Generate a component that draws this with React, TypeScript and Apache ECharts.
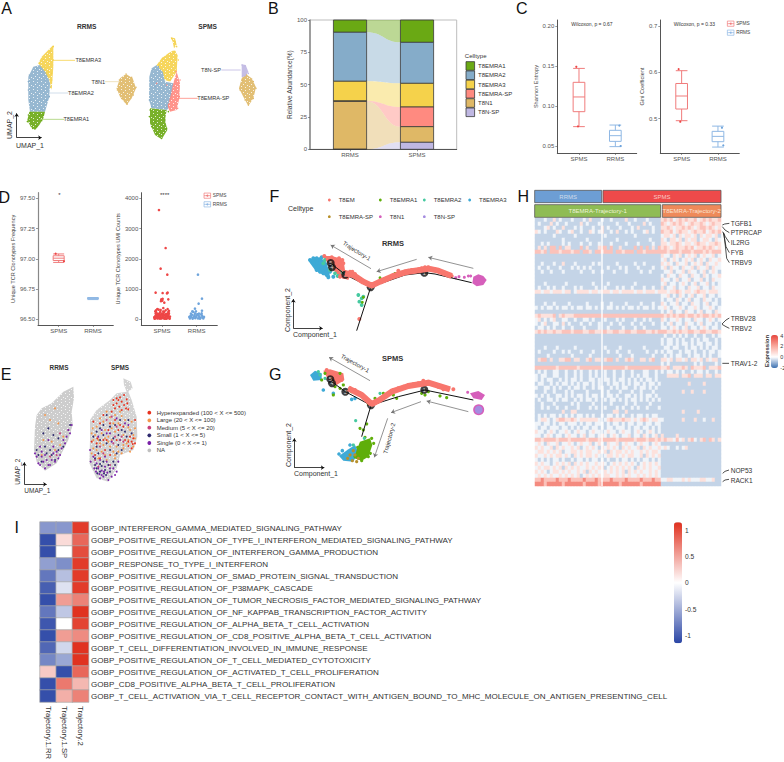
import React, { useEffect, useRef } from 'react';
import * as echarts from 'echarts';

type P = number[];
const FONT = 'Liberation Sans';

// ---- Panel B
const cellTypes = ['T8EMRA1', 'T8EMRA2', 'T8EMRA3', 'T8EMRA-SP', 'T8N1', 'T8N-SP'];
const cellColors = ['#6aa914', '#85acc9', '#f5d24b', '#ff8a80', '#dfb866', '#bfb7e2'];
const rrmsShare = [9.5, 37.9, 15.2, 0.4, 37, 0];
const spmsShare = [17.3, 31.7, 18.3, 15.2, 12.1, 5.4];
const abundanceGroups = ['RRMS', 'SPMS'];

// ---- Panel C / D boxes: min, Q1, median, Q3, max
const entropySp = [0.0742, 0.0929, 0.1113, 0.1296, 0.147];
const entropyRr = [0.0492, 0.0558, 0.0629, 0.0696, 0.0762];
const entropyPts = [[229, 0.149], [234, 0.0745]];
const entropyPtsRr = [[358, 0.0755], [362, 0.05]];
const giniSp = [0.4957, 0.5209, 0.549, 0.576, 0.6036];
const giniRr = [0.4388, 0.4504, 0.4619, 0.4727, 0.484];
const giniPts = [[536, 0.607], [541, 0.4935]];
const giniPtsRr = [[666, 0.4806], [670, 0.4424]];
const freqSp = [96.97, 96.986, 97.005, 97.025, 97.04];
const freqRr = [96.663, 96.669, 96.673, 96.677, 96.68];
const freqPts = [[167, 97.042], [192, 96.98]];
const umiSp = [[477,3614],[497,2358],[482,1675],[502,1477],[467,882],[488,870],[503,882],[501,860],[505,661],[484,661],[488,680],[483,600],[487,620],[493,551],[490,375],
[464,20],[468,60],[472,30],[476,90],[480,20],[484,50],[488,120],[492,30],[496,70],[500,25],[504,100],[508,40],[466,110],[470,150],[474,180],[478,140],[482,100],[486,190],[490,160],[494,130],[498,170],[502,190],[506,150],[510,90],[463,70],[467,190],[471,90],[475,40],[479,200],[483,150],[487,60],[491,210],[495,20],[499,110],[503,50],[507,200],[465,30],[469,230],[473,130],[477,60],[481,250],[485,30],[489,90],[493,250],[497,30],[501,140],[505,240],[509,20],[468,300],[472,340],[476,320],[497,300],[503,340],[490,260],[482,310],[466,260],[507,280]];
const umiRr = [[594,1477],[606,683],[596,518],[585,353],[577,264],[588,264],[606,286],[580,250],
[570,30],[574,70],[578,20],[582,100],[586,40],[590,120],[594,30],[598,80],[602,50],[606,120],[610,30],[612,80],[568,80],[572,120],[576,150],[580,60],[584,150],[588,80],[592,170],[596,130],[600,20],[604,160],[608,70],[573,190],[585,200],[597,190],[605,200]];

// ---- Panel A (UMAP)
const aRrGreen = [[88,335],[135,335],[130,355],[118,375],[105,390],[92,380],[82,360]];
const aRrBlue = [[100,200],[120,195],[140,215],[150,250],[148,290],[135,335],[90,335],[85,300],[85,230]];
const aRrYellow = [[160,135],[160,200],[155,270],[148,240],[135,215],[115,190],[125,170],[145,150]];
const aRrTan = [[378,222],[398,235],[408,265],[395,295],[380,315],[360,290],[350,265],[360,235]];
const aSpYellowTip = [[512,112],[525,115],[530,135],[522,145],[518,125]];
const aSpYellow = [[522,150],[533,165],[530,215],[510,245],[495,240],[488,215],[470,195],[485,175],[505,160]];
const aSpBlue = [[470,195],[490,215],[495,245],[520,250],[515,290],[503,330],[455,325],[447,300],[448,230],[455,205]];
const aSpPink = [[530,215],[540,250],[538,295],[530,330],[510,335],[503,320],[512,285],[520,250]];
const aSpGreen = [[450,325],[500,330],[495,360],[502,390],[485,418],[465,405],[450,370]];
const aSpLav = [[725,193],[737,195],[745,215],[738,228],[725,232]];
const aSpTan = [[737,222],[755,235],[768,262],[760,295],[745,318],[730,290],[717,265],[725,235]];
const fuzzGreen = [[85,345],[92,338],[130,345],[125,362],[110,380],[98,385],[82,365],[105,350],[118,345],[90,360],[450,330],[448,350],[455,380],[470,400],[485,415],[500,385],[495,360],[505,335],[480,390],[465,365]];
const fuzzBlue = [[88,225],[85,270],[92,300],[100,325],[125,330],[140,300],[150,260],[148,290],[110,205],[125,215],[135,240],[85,245],[450,240],[460,210],[475,200],[448,300],[455,320],[500,320],[510,280],[465,260],[490,300]];
const fuzzYellow = [[160,140],[150,155],[130,178],[118,190],[155,220],[160,180],[152,262],[145,215],[135,200],[155,240],[515,115],[525,125],[530,140],[525,155],[535,180],[528,210],[488,175],[495,235],[510,240],[478,195]];
const fuzzPink = [[540,240],[538,290],[533,325],[510,330],[505,315],[528,215],[520,260],[500,255],[470,250]];
const fuzzTan = [[378,222],[395,232],[408,262],[400,285],[382,312],[365,295],[352,270],[358,240],[372,300],[740,225],[760,245],[768,265],[760,295],[745,315],[720,270],[728,240],[735,300]];
const fuzzLav = [[726,195],[735,198],[745,220],[728,228]];
const speckTile = [[1,1],[5,2],[3,4],[7,5],[1,6],[5,7]];

// ---- Panel E (clonotype UMAP)
const eRrCloud = [[220,140],[222,175],[215,215],[218,255],[205,300],[185,340],[170,370],[135,392],[110,365],[102,330],[105,260],[110,225],[125,205],[155,190],[190,155]];
const eSpCloud = [[370,115],[392,125],[398,145],[385,155],[395,180],[410,230],[412,290],[400,330],[360,345],[350,385],[325,425],[290,415],[268,370],[270,300],[270,240],[290,210],[330,180],[350,160],[380,155],[372,135]];
const cloneNames = ['Hyperexpanded (100 < X <= 500)', 'Large (20 < X <= 100)', 'Medium (5 < X <= 20)', 'Small (1 < X <= 5)', 'Single (0 < X <= 1)', 'NA'];
const cloneColors = ['#e8321f', '#f5964a', '#c63f7b', '#2e2a6e', '#7a22a8', '#bfbfbf'];
const eRed = [[340,180],[350,175],[360,172],[372,165],[380,178],[365,185],[350,190],[340,195],[358,200],[372,195],[382,190],[335,215],[385,208],[300,250],[280,245],[330,250],[345,240],[390,290],[400,295],[395,305],[405,310],[385,318],[395,325],[375,300],[310,300],[325,270],[355,270],[370,260],[290,310],[300,355],[285,345],[330,345],[350,300],[275,305],[315,330],[405,240],[355,180],[345,205],[365,210],[378,205],[310,225],[320,300],[360,255],[385,305],[398,312],[292,295]];
const eOrange = [[300,235],[320,215],[345,225],[375,240],[395,245],[405,265],[390,270],[370,285],[345,275],[325,290],[305,280],[285,285],[278,265],[290,330],[310,315],[330,320],[350,320],[370,325],[380,310],[365,340],[340,335],[280,325],[295,300],[355,250],[335,265],[400,320],[315,345],[345,355],[360,215],[290,260],[310,245],[330,232],[365,228],[385,262],[400,285],[360,300],[335,300],[315,295],[300,310],[280,300],[275,340],[295,355],[320,360],[345,345],[370,315],[385,300],[355,335],[325,305],[305,335],[340,250],[315,270],[405,295],[390,335],[275,280],
[150,240],[165,205],[135,225],[175,250],[190,290],[130,300],[155,305],[180,315],[125,345],[165,330]];
const eMedium = [[320,240],[350,260],[340,310],[300,320],[370,305],[285,360],[330,375],[345,290],[310,340],[365,290],[335,230],[295,380],[180,280],[205,270],[150,350],[170,345]];
const eSmall = [[300,265],[330,260],[310,255],[355,285],[340,295],[320,310],[295,340],[310,365],[290,385],[300,395],[305,378],[315,390],[285,375],[330,395],[345,375],[365,330],[280,290],[375,275],[395,280],[360,240],[312,400],[290,275],[320,225],[345,255],[365,270],[385,240],[300,300],[330,330],[350,340],[290,320],[285,355],[325,375],[300,372],[292,400],[318,405],[340,365],[310,285],[355,315],[380,290],
[145,265],[160,285],[175,295],[135,320],[150,330],[125,365],[165,360],[190,320],[130,280],[210,255],[115,345],[140,340],[155,345],[110,330],[175,330]];
const eSingle = [[295,385],[305,392],[298,402],[288,395],[315,380],[322,398],[335,410],[325,420],[350,395],[340,385],[310,410],[272,365],[280,350],[300,415],[315,350],[335,305],[360,300],[295,290],[320,280],[385,255],[290,370],[300,360],[312,395],[330,385],[345,405],[283,385],[305,405],[320,365],[270,330],[355,365],[330,280],[350,235],[305,270],[375,250],
[205,270],[110,350],[120,375],[135,385],[150,375],[165,365],[180,345],[140,360],[125,335],[160,340],[105,340],[145,300],[190,300],[200,290],[115,370],[175,355],[135,345],[215,255],[130,365],[145,375],[125,350],[155,360],[170,335],[185,325],[195,310],[210,280],[160,320],[120,320]];

// ---- Panel F / G (trajectories)
const trajNames = ['T8EM', 'T8EMRA1', 'T8EMRA2', 'T8EMRA3', 'T8EMRA-SP', 'T8N1', 'T8N-SP'];
const trajColors = ['#f8766d', '#5fae0a', '#45c9a0', '#3eaad6', '#b8902a', '#d65fbb', '#a58de0'];
const fTree = [[[620,338],[510,312],[478,308],[420,315],[320,350]], [[317,352],[275,482]], [[317,352],[241,314],[197,280]]];
const fBand = [[560,318],[520,302],[490,296],[460,301],[420,307],[380,320],[345,335],[320,347],[295,335],[265,315],[240,310]];
const fSalmon = [[560,318],[550,312],[540,308],[530,305],[520,300],[510,298],[500,296],[490,292],[480,292],[470,295],[460,298],[450,302],[440,300],[430,302],[420,305],[410,308],[400,302],[395,312],[385,315],[375,322],[365,325],[355,330],[345,335],[335,340],[325,345],[315,345],[305,340],[295,335],[285,330],[275,325],[270,312],[262,305],[255,305],[245,310],[235,320],[225,320],[222,305],[228,292],[235,280],[232,270],[222,265],[210,270],[200,262],[188,268],[178,258],[283,447]];
const fSalmonCloud = [[175,258],[200,258],[235,268],[240,300],[260,305],[250,330],[225,322],[205,300],[185,275]];
const fBlueCloud = [[135,268],[165,262],[185,278],[195,318],[175,315],[150,300],[132,275]];
const fBlue = [[135,270],[145,265],[155,265],[165,270],[155,280],[160,290],[170,285],[155,300],[165,305],[175,310],[185,315],[190,322],[180,295],[195,305],[145,278],[170,262],[205,320]];
const fTeal = [[195,300],[210,310],[218,318],[225,305],[235,310],[280,375],[290,385],[283,395],[290,405],[175,280],[180,270],[295,380]];
const fGreen = [[285,330],[270,325],[345,323],[330,340],[320,340],[292,397],[295,382],[390,310]];
const fPinkCloud = [[625,320],[640,313],[655,318],[665,330],[655,345],[635,349],[622,340]];
const fPink = [[582,320],[598,322],[610,318],[617,318],[572,323]];
const fNodes = [[478,308,'1'],[317,352,'2'],[241,314,'3'],[201,292,'4'],[197,279,'5']];
const fArrows = [[[625,295],[490,262]], [[455,268],[335,305]], [[318,296],[197,225]]];

const gTree = [[[625,210],[480,180],[400,200],[330,222],[318,226]], [[318,226],[290,320]], [[318,226],[241,185],[200,155]]];
const gBand = [[555,178],[490,158],[430,168],[380,185],[340,212],[320,222],[290,195],[250,175]];
const gSalmon = [[565,178],[550,176],[535,178],[520,170],[505,165],[490,155],[475,152],[460,160],[445,163],[430,165],[415,170],[400,175],[385,180],[375,190],[360,200],[345,210],[330,220],[305,210],[290,195],[270,180],[255,175],[230,150],[220,135],[185,120],[205,150],[285,190],[225,145],[210,135]];
const gSalmonCloud = [[175,122],[195,118],[235,130],[238,150],[215,165],[190,150]];
const gGreen = [[545,203],[525,198],[490,185],[480,195],[470,190],[395,205],[385,195],[355,190],[330,205],[340,215],[310,222],[285,295],[305,282],[295,300],[260,185],[235,165],[225,175],[205,195],[170,150],[210,170],[180,130],[225,130],[320,325],[326,340],[310,380],[290,392],[270,380],[278,352],[300,322],[316,370]];
const gGreenCloud = [[315,325],[322,345],[310,380],[290,392],[268,385],[275,360],[285,335]];
const gBlueCloud = [[222,378],[250,358],[270,345],[280,365],[265,395],[235,392]];
const gBlueTop = [[135,135],[150,122],[170,130],[170,150],[145,152]];
const gBlue = [[175,180],[205,190],[260,208],[270,205],[222,372],[232,362],[255,345]];
const gBrown = [[255,375],[270,375],[262,392],[248,385],[280,385],[265,362],[275,395]];
const gTeal = [[272,272],[298,325],[265,345],[160,125],[180,145],[165,135],[345,190]];
const gPinkCloud = [[615,190],[640,183],[660,195],[650,210],[625,205]];
const gPink = [[608,187]];
const gCircle = [[641,239]];
const gNodes = [[478,179,'1'],[318,226,'2'],[241,185,'3'],[201,160,'4'],[196,148,'5']];
const gArrows = [[[610,245],[485,213]], [[468,215],[378,248]], [[315,152],[192,82]], [[368,265],[328,382]]];

// ---- Panel H: one string per gene row, left block | right block; digit is an expression level
const exprLevels = [-0.6, -0.15, 0.7, 1.4, 2.6];
const exprRows = [
'000100201000100010200010010000200100010000|23231232322312323223',
'010002010010000201000100000100010000201000|32123232123223212322',
'000120100200010100010020100010001020000100|22321223232123323212',
'210100021001200100210120010200101000120100|32231232212322312323',
'000000100000010000000001000000000100000000|12212021221202122120',
'000000000100000001000000000100000000001000|21022120212201221021',
'001010000101000100100100010000100010000100|22122321221232212232',
'020203303022000302000233030020000303030203|23212322323122323212',
'332303332333233033203323330332333033233333|33233323332333232333',
'000000000000000000000000000000000000000000|21102120121201211201',
'000000000000000000000000000000000000000000|12012101212012102112',
'001000100200010000010100000100000100100000|21210211201212021121',
'010010001000101010100000100010100010000100|12021102112021120211',
'001001000100000100010010001000100001001000|01120112021101201210',
'000000000000000000000000000000000000000000|10211021102110210112',
'000000000000000000000000000000000000000000|21101201120112010211',
'000100000010000000010000100000000100000000|12011012101201120101',
'010010100100010100001001000101001000100100|20112011021120110211',
'221221222122012222122122212212222122122212|22122321221232212221',
'000000000000000000000000000000000000000000|11201021012011201101',
'000000000000000000000000000000000000000000|10110210120110211010',
'000100100001000001000010010000100001000100|21011201102110120110',
'101011010110101101101010110101011010110101|12101121011210112101',
'000000000000000000000000000000000000000000|10120110211012011021',
'232222302322233333333333333333333333333333|32323233233232332323',
'120101200110010011010001000101000100101000|21011210110211012101',
'101200110201000100100100010010001001000100|10120110211012011010',
'011010100100100010000100100001000100100000|11012101201101210110',
'232322322333233322332233223322332233322323|33223232233223322332',
'000000000000000000000000000000000000000000|01001010100100100101',
'000000000000000000000000000000000000000000|10110101001010110010',
'000000000000000000000000000000000000000000|10110101101011011010',
'000100010000010000000001000010000000100000|01101100101101010110',
'010000100101000100010000100100010000010010|10110010110100101101',
'000010000000100000100000000010001000000100|01010110010110101001',
'023302002233022002302202330200232002202300|22120221202212021220',
'000000000000000000000000000000000000000000|10100000000101000010',
'333333323333332333333333333333233333333333|22302223203222302223',
'010100110010010100101001001001001000110010|10110101001011010010',
'101100110010010100101001001001001010110010|00222202230222022022',
'101011001010110100110101101011010101011010|00000000000000000000',
'011001010110101011010100101101010110101101|00000000020000200000',
'100110101001011010010110010101100101101010|00000000000000000000',
'000100100010100001000010100010001001000100|00000002002000200000',
'101010011010101101011010110100110101011010|00000000000000000000',
'010011010110010101101001011010101101010101|00000000000000000000',
'001000100000101000010000010000100100001000|00000000000000000000',
'001010010010001000101001000101001010010001|00000000000000000000',
'000000000200220000000000002200200000000000|00000002000020000000',
'010101101010101101010010110101001011010110|00000000000000000000',
'012210123322321222222101232223221212321221|10000002000200100200',
'110110101101110101101110101101011011011011|00000000000000000000',
'101101110110101011011010110111010110110101|00000000000000000000',
'211012101121012110121101211012110121012101|00000000000000000000',
'110121011012110120110121012101120110210120|20000200000000000000',
'332333323332333332333233333233333233323323|23221312023102303202',
'121021120112101211201210211201211012110121|00000000000000000000',
'212112021211212012121021212102121120212112|12100101200000000000',
'122121212011221212211212021221212112121221|00000000000000000000',
'211212122121021212212101221212122112021212|00000000000000000000',
'101010110100101101011010100101101010110101|00000000000000000000',
'212110121212021212112121012121212101212121|00000000000000000000',
'121221212021212112121220121212121021212112|00000000000000000000',
'212101221212112120212112121212021212112121|00000000000000000000',
'121212112121212012121212211212121121212121|00000000000000000000',
'334333343334333343334333343333433334333433|11221112121112211200',
'444344444344444434444344444434444443444444|00000000000000000000',
];
const genes = ['TGFB1', 'PTPRCAP', 'IL2RG', 'FYB', 'TRBV9', 'TRBV28', 'TRBV2', 'TRAV1-2', 'NOP53', 'RACK1'];

// ---- Panel I
const pathways = [
'GOBP_INTERFERON_GAMMA_MEDIATED_SIGNALING_PATHWAY',
'GOBP_POSITIVE_REGULATION_OF_TYPE_I_INTERFERON_MEDIATED_SIGNALING_PATHWAY',
'GOBP_POSITIVE_REGULATION_OF_INTERFERON_GAMMA_PRODUCTION',
'GOBP_RESPONSE_TO_TYPE_I_INTERFERON',
'GOBP_POSITIVE_REGULATION_OF_SMAD_PROTEIN_SIGNAL_TRANSDUCTION',
'GOBP_POSITIVE_REGULATION_OF_P38MAPK_CASCADE',
'GOBP_POSITIVE_REGULATION_OF_TUMOR_NECROSIS_FACTOR_MEDIATED_SIGNALING_PATHWAY',
'GOBP_POSITIVE_REGULATION_OF_NF_KAPPAB_TRANSCRIPTION_FACTOR_ACTIVITY',
'GOBP_POSITIVE_REGULATION_OF_ALPHA_BETA_T_CELL_ACTIVATION',
'GOBP_POSITIVE_REGULATION_OF_CD8_POSITIVE_ALPHA_BETA_T_CELL_ACTIVATION',
'GOBP_T_CELL_DIFFERENTIATION_INVOLVED_IN_IMMUNE_RESPONSE',
'GOBP_POSITIVE_REGULATION_OF_T_CELL_MEDIATED_CYTOTOXICITY',
'GOBP_POSITIVE_REGULATION_OF_ACTIVATED_T_CELL_PROLIFERATION',
'GOBP_CD8_POSITIVE_ALPHA_BETA_T_CELL_PROLIFERATION',
'GOBP_T_CELL_ACTIVATION_VIA_T_CELL_RECEPTOR_CONTACT_WITH_ANTIGEN_BOUND_TO_MHC_MOLECULE_ON_ANTIGEN_PRESENTING_CELL',
];
const trajectories = ['Trajectory.1.RR', 'Trajectory.1.SP', 'Trajectory.2'];
const pathwayScores = [[-0.65,-0.65,1.1],[-1.1,0.2,0.85],[-1.1,0,1],[-0.6,-0.7,1.1],[-0.85,-0.4,1.1],[-1,-0.18,1.1],[-1.1,0.55,0.7],[-0.85,-0.35,1.15],[-1.05,0,1.05],[-1.1,0.55,0.65],[-0.95,-0.25,1.15],[-0.75,-0.55,1.15],[0.3,-1.1,0.85],[-1.1,0.75,0.4],[-1.1,0.45,0.7]];

const O: Record<string, number[]> = { A: [0, 0], B: [230, 0], C: [500, 0], D: [0, 170], E: [0, 340], F: [265, 170], G: [265, 330], H8: [520, 180], H9: [520, 340], I: [0, 510], I2: [380, 510] };
const RED = '#ee4646', REDL = '#f07c7c', BLUE = '#6ea4dc', BLUEL = '#8fb8e4';

function buildOption() {
  const grids: any[] = [], xs: any[] = [], ys: any[] = [], series: any[] = [], gfx: any[] = [];
  const tile = document.createElement('canvas');
  tile.width = 8; tile.height = 8;
  const tc = tile.getContext('2d')!;
  tc.fillStyle = 'rgba(255,255,255,0.8)';
  speckTile.forEach(([x, y]) => tc.fillRect(x, y, 1, 1));

  const at = (o: string, zx: number, zy: number) => [O[o][0] + zx / 3, O[o][1] + zy / 3];
  const txt = (o: string, zx: number, zy: number, text: string, opt: any = {}) => {
    const [x, y] = at(o, zx, zy);
    gfx.push({ type: 'text', x, y, rotation: ((opt.rot || 0) * Math.PI) / 180, z: 100, silent: true, style: { text, x: 0, y: 0, fill: opt.color || '#333', fontSize: opt.size || 6, fontFamily: FONT, fontWeight: opt.bold ? 'bold' : 'normal', align: opt.align || 'center', verticalAlign: 'middle' } });
  };
  const poly = (o: string, pts: number[][], color: string, width = 0.8) =>
    gfx.push({ type: 'polyline', z: 100, silent: true, shape: { points: pts.map((p) => at(o, p[0], p[1])) }, style: { stroke: color, lineWidth: width, fill: 'none' } });
  const dot = (o: string, zx: number, zy: number, color: string, r = 1.6) => {
    const [x, y] = at(o, zx, zy);
    gfx.push({ type: 'circle', z: 100, silent: true, shape: { cx: x, cy: y, r }, style: { fill: color } });
  };
  const box = (x: number, y: number, w: number, h: number, fill: string, stroke: string, lw = 0.8) =>
    gfx.push({ type: 'rect', z: 99, silent: true, shape: { x, y, width: w, height: h }, style: { fill, stroke, lineWidth: lw } });

  const frame = (o: string, w: number, h: number) => {
    grids.push({ left: O[o][0], top: O[o][1], width: w, height: h, show: false, containLabel: false });
    const i = grids.length - 1;
    xs.push({ type: 'value', gridIndex: i, show: false, min: 0, max: w * 3, splitLine: { show: false } });
    ys.push({ type: 'value', gridIndex: i, show: false, inverse: true, min: 0, max: h * 3, splitLine: { show: false } });
    return i;
  };
  const cloud = (f: number, pts: number[][], color: string, opacity = 0.8, speck = false) =>
    series.push({ type: 'custom', coordinateSystem: 'cartesian2d', xAxisIndex: f, yAxisIndex: f, silent: true, clip: false, data: pts,
      renderItem: (p: any, api: any) => {
        if (p.dataIndex !== 0) return null;
        const points = pts.map((q) => api.coord(q));
        const base = { type: 'polygon', shape: { points }, style: { fill: color, opacity } };
        return speck ? { type: 'group', children: [base, { type: 'polygon', shape: { points }, style: { fill: { image: tile, repeat: 'repeat' } } }] } : base;
      } });
  const sc = (f: number, pts: any[], color: string, size: number, opacity = 1, name?: string) =>
    series.push({ type: 'scatter', name, xAxisIndex: f, yAxisIndex: f, data: pts, symbolSize: size, silent: true, itemStyle: { color, opacity } });
  const ln = (f: number, pts: number[][], color: string, width: number, opacity = 1) =>
    series.push({ type: 'line', xAxisIndex: f, yAxisIndex: f, data: pts, showSymbol: false, silent: true, smooth: false, lineStyle: { color, width, opacity }, itemStyle: { color } });
  const arrows = (f: number, segs: number[][][], color: string, width: number, size: number) =>
    series.push({ type: 'lines', coordinateSystem: 'cartesian2d', xAxisIndex: f, yAxisIndex: f, silent: true, symbol: ['none', 'arrow'], symbolSize: size, lineStyle: { color, width, opacity: 1, curveness: 0 }, data: segs.map((coords) => ({ coords })) });
  const nodes = (f: number, pts: any[]) =>
    series.push({ type: 'scatter', xAxisIndex: f, yAxisIndex: f, data: pts, symbolSize: 8, silent: true, itemStyle: { color: '#111' }, label: { show: true, position: 'inside', formatter: (p: any) => p.value[2], color: '#fff', fontSize: 5.5, fontFamily: FONT, textBorderWidth: 0 } });

  const panel = (c: any) => {
    grids.push({ left: c.left, top: c.top, width: c.w, height: c.h, show: !!c.border, borderColor: '#bdbdbd', borderWidth: 1, backgroundColor: 'transparent' });
    const i = grids.length - 1;
    xs.push({ type: 'value', gridIndex: i, min: c.xr[0], max: c.xr[1], splitLine: { show: false },
      axisLine: { onZero: false, lineStyle: { color: c.axisColor || '#555', width: 1 } },
      axisTick: { length: 2, customValues: c.catX, lineStyle: { color: '#555', width: 0.6 } },
      axisLabel: { customValues: c.catX, formatter: (v: number) => c.cats[c.catX.indexOf(v)] ?? '', fontSize: c.font || 6, color: '#555', fontFamily: FONT, margin: 3 } });
    ys.push({ type: 'value', gridIndex: i, min: c.yr[0], max: c.yr[1], name: c.name, nameLocation: 'middle', nameGap: c.gap, nameRotate: 90, nameTextStyle: { fontSize: c.nameSize || 5.6, color: '#444', fontFamily: FONT }, splitLine: { show: false },
      axisLine: { show: true, onZero: false, lineStyle: { color: c.yColor || '#555', width: c.yWidth || 1 } },
      axisTick: { show: true, length: 2, customValues: c.ticks, lineStyle: { color: '#555', width: 0.6 } },
      axisLabel: { customValues: c.ticks, formatter: c.fmt, fontSize: c.font || 6, color: '#555', fontFamily: FONT, margin: 3 } });
    return i;
  };
  const boxes = (i: number, items: any[][], width: number) =>
    series.push({ type: 'boxplot', xAxisIndex: i, yAxisIndex: i, silent: true, boxWidth: [width, width], data: items.map(([x, q, color]) => ({ value: [x, ...q], itemStyle: { color: '#fff', borderColor: color, borderWidth: 1 } })) });
  const glyph = (o: string, zx: number, zy: number, color: string, label: string) => {
    const [x, y] = at(o, zx, zy);
    box(x - 3.3, y - 2.6, 6.6, 5.2, '#fff', color, 0.7);
    gfx.push({ type: 'line', z: 100, silent: true, shape: { x1: x - 3.3, y1: y, x2: x + 3.3, y2: y }, style: { stroke: color, lineWidth: 0.7 } });
    gfx.push({ type: 'circle', z: 100, silent: true, shape: { cx: x, cy: y, r: 1 }, style: { fill: color } });
    gfx.push({ type: 'text', x: x + 5.5, y, z: 100, silent: true, style: { text: label, x: 0, y: 0, fill: '#444', fontSize: 4.8, fontFamily: FONT, align: 'left', verticalAlign: 'middle' } });
  };

  // Letters
  ([['A', 'A', 20, 25], ['B', 'B', 130, 25], ['C', 'C', 65, 25], ['D', 'D', 13, 82], ['E', 'E', 18, 102], ['F', 'F', 28, 80], ['G', 'G', 31, 132], ['H', 'H8', 10, 48], ['I', 'I', 50, 52]] as any[]).forEach(([t, o, x, y]) => txt(o, x, y, t, { size: 16, color: '#111' }));

  // ---------- A
  const fA = frame('A', 270, 170);
  const [cG, cB, cY, cP, cT, cL] = cellColors;
  [aRrBlue, aSpBlue].forEach((p) => cloud(fA, p, cB, 0.85, true));
  [aRrGreen, aSpGreen].forEach((p) => cloud(fA, p, cG, 0.9, true));
  [aRrYellow, aSpYellow, aSpYellowTip].forEach((p) => cloud(fA, p, cY, 0.9, true));
  cloud(fA, aSpPink, cP, 0.9, true);
  [aRrTan, aSpTan].forEach((p) => cloud(fA, p, cT, 0.9, true));
  cloud(fA, aSpLav, cL, 0.9);
  sc(fA, fuzzGreen, cG, 1.4); sc(fA, fuzzBlue, cB, 1.4); sc(fA, fuzzYellow, cY, 1.4); sc(fA, fuzzPink, cP, 1.4); sc(fA, fuzzTan, cT, 1.4); sc(fA, fuzzLav, cL, 1.4);
  ln(fA, [[160,181],[225,181]], cY, 0.8); ln(fA, [[315,245],[360,245]], '#ecdcb0', 0.8); ln(fA, [[148,279],[205,279]], '#c5d6e6', 0.8); ln(fA, [[120,358],[192,358]], '#a6cf70', 0.8); ln(fA, [[664,210],[722,210]], cL, 0.8); ln(fA, [[535,295],[593,295]], cP, 0.8);
  txt('A', 260, 80, 'RRMS', { size: 6.6, bold: true }); txt('A', 623, 80, 'SPMS', { size: 6.6, bold: true });
  txt('A', 265, 180, 'T8EMRA3', { size: 5.6 }); txt('A', 295, 245, 'T8N1', { size: 5.6 }); txt('A', 243, 279, 'T8EMRA2', { size: 5.6 }); txt('A', 229, 358, 'T8EMRA1', { size: 5.6 }); txt('A', 633, 209, 'T8N-SP', { size: 5.6 }); txt('A', 640, 295, 'T8EMRA-SP', { size: 5.6 });
  arrows(fA, [[[50,413],[50,340]], [[50,413],[125,413]]], '#111', 0.8, 3.5);
  txt('A', 28, 375, 'UMAP_2', { size: 7, rot: 90 }); txt('A', 90, 435, 'UMAP_1', { size: 7 });

  // ---------- B
  const catB = [360, 561];
  const iB = panel({ left: 310, top: 20, w: 146.7, h: 129.3, xr: [240, 680], yr: [0, 100], ticks: [0, 25, 50, 75, 100], fmt: (v: number) => `${v}`, name: 'Relative Abundance(%)', gap: 15, nameSize: 6.6, cats: abundanceGroups, catX: catB, border: true, yColor: '#888', yWidth: 1.5, font: 6 });
  const stacks = (vals: number[]) => { let t = 100; return vals.map((v) => { const r = [t - v, t]; t -= v; return r; }); };
  const sr = stacks(rrmsShare), ss = stacks(spmsShare);
  cellTypes.forEach((_, k) => {
    series.push({ type: 'custom', coordinateSystem: 'cartesian2d', xAxisIndex: iB, yAxisIndex: iB, silent: true, data: [[catB[0], sr[k][0], sr[k][1], catB[1], ss[k][0], ss[k][1]]], encode: { x: [0, 3], y: [1, 2, 4, 5] },
      renderItem: (_p: any, api: any) => {
        const xa = 410, xb = 512, m = (xa + xb) / 2;
        const a = api.coord([xa, api.value(2)]), b = api.coord([xb, api.value(5)]), c = api.coord([xb, api.value(4)]), d = api.coord([xa, api.value(1)]), mx = api.coord([m, 0])[0];
        return { type: 'path', shape: { pathData: `M${a[0]} ${a[1]}C${mx} ${a[1]} ${mx} ${b[1]} ${b[0]} ${b[1]}L${c[0]} ${c[1]}C${mx} ${c[1]} ${mx} ${d[1]} ${d[0]} ${d[1]}Z` }, style: { fill: cellColors[k], opacity: 0.45 } };
      } });
  });
  cellTypes.forEach((name, k) => {
    series.push({ type: 'custom', name, coordinateSystem: 'cartesian2d', xAxisIndex: iB, yAxisIndex: iB, silent: true, clip: false, data: [[catB[0], sr[k][0], sr[k][1]], [catB[1], ss[k][0], ss[k][1]]], encode: { x: 0, y: [1, 2] },
      renderItem: (_p: any, api: any) => {
        const t = api.coord([api.value(0), api.value(2)]), b = api.coord([api.value(0), api.value(1)]);
        return { type: 'rect', shape: { x: t[0] - 16.6, y: t[1], width: 33.2, height: b[1] - t[1] }, style: { fill: cellColors[k], stroke: '#3a3a3a', lineWidth: 0.8 } };
      } });
  });
  txt('B', 737, 168, 'Celltype', { size: 6 });
  cellTypes.forEach((t, k) => {
    const [x, y] = at('B', 708, 185 + k * 27.8);
    box(x, y, 8.6, 8.6, cellColors[k], '#3a3a3a');
    txt('B', 744, 198 + k * 27.8, t, { size: 6, align: 'left' });
  });

  // ---------- C
  const iC1 = panel({ left: 557.3, top: 20, w: 79.4, h: 133, xr: [172, 410], yr: [0.04125, 0.2075], ticks: [0.05, 0.1, 0.15, 0.2], fmt: (v: number) => v.toFixed(2), name: 'Shannon Entropy', gap: 16, cats: ['SPMS', 'RRMS'], catX: [237, 346] });
  boxes(iC1, [[237, entropySp, REDL], [346, entropyRr, BLUEL]], 11.7);
  sc(iC1, entropyPts, RED, 2.2); sc(iC1, entropyPtsRr, BLUE, 2.2);
  const iC2 = panel({ left: 660.3, top: 20, w: 79, h: 133, xr: [481, 718], yr: [0.426, 0.713], ticks: [0.5, 0.6, 0.7], fmt: (v: number) => v.toFixed(1), name: 'Gini Coefficient', gap: 13, cats: ['SPMS', 'RRMS'], catX: [545, 654] });
  boxes(iC2, [[545, giniSp, REDL], [654, giniRr, BLUEL]], 11.7);
  sc(iC2, giniPts, RED, 2.2); sc(iC2, giniPtsRr, BLUE, 2.2);
  txt('C', 276, 72, 'Wilcoxon, p = 0.67', { size: 5 }); txt('C', 583, 72, 'Wilcoxon, p = 0.33', { size: 5 });
  glyph('C', 692, 71, REDL, 'SPMS'); glyph('C', 692, 98, BLUEL, 'RRMS');

  // ---------- D
  const iD1 = panel({ left: 38, top: 192.7, w: 75.3, h: 132.3, xr: [114, 340], yr: [96.453, 97.546], ticks: [96.5, 96.75, 97, 97.25, 97.5], fmt: (v: number) => v.toFixed(2), name: 'Unique TCR Clonotypes Frequency', gap: 18.5, cats: ['SPMS', 'RRMS'], catX: [176, 279], yColor: '#888', yWidth: 1.2 });
  boxes(iD1, [[176, freqSp, REDL], [279, freqRr, BLUEL]], 11);
  sc(iD1, freqPts, RED, 2.2);
  txt('D', 178, 74, '*', { size: 6 });
  const iD2 = panel({ left: 141.3, top: 192.7, w: 76, h: 132.3, xr: [424, 652], yr: [-187, 4187], ticks: [0, 1000, 2000, 3000, 4000], fmt: (v: number) => `${v}`, name: 'Unique TCR Clonotypes UMI Counts', gap: 17, cats: ['SPMS', 'RRMS'], catX: [486, 590] });
  sc(iD2, umiSp, RED, 2.6); sc(iD2, umiRr, BLUE, 2.6);
  txt('D', 494, 76, '****', { size: 6 });
  glyph('D', 622, 77, REDL, 'SPMS'); glyph('D', 622, 103, BLUEL, 'RRMS');

  // ---------- E
  const fE = frame('E', 270, 170);
  cloud(fE, eRrCloud, '#c4c4c4', 0.85, true); cloud(fE, eSpCloud, '#c4c4c4', 0.75, true);
  [eOrange, eMedium, eRed, eSmall, eSingle].forEach((p, k) => sc(fE, p, [cloneColors[1], cloneColors[2], cloneColors[0], cloneColors[3], cloneColors[4]][k], 1.9));
  txt('E', 177, 83, 'RRMS', { size: 6.4, bold: true }); txt('E', 360, 83, 'SPMS', { size: 6.4, bold: true });
  cloneNames.forEach((t, k) => { const zy = [218, 241, 263, 286, 309, 331][k]; dot('E', 448, zy, cloneColors[k], 1.9); txt('E', 470, zy, t, { size: 6, align: 'left' }); });
  arrows(fE, [[[73,433],[73,367]], [[73,433],[140,433]]], '#111', 0.8, 3.5);
  txt('E', 52, 395, 'UMAP_2', { size: 6.5, rot: 90 }); txt('E', 112, 452, 'UMAP_1', { size: 6.5 });

  // ---------- F
  const fF = frame('F', 260, 170);
  fTree.forEach((p) => ln(fF, p, '#111', 1));
  ln(fF, fBand, trajColors[0], 6);
  cloud(fF, fSalmonCloud, trajColors[0], 1); cloud(fF, fBlueCloud, trajColors[3], 1);
  sc(fF, fBlue, trajColors[3], 4); sc(fF, fTeal, trajColors[2], 3.8); sc(fF, fSalmon, trajColors[0], 4); sc(fF, fGreen, trajColors[1], 2.8);
  cloud(fF, fPinkCloud, trajColors[5], 1); sc(fF, fPink, trajColors[5], 3);
  nodes(fF, fNodes);
  arrows(fF, fArrows, '#777', 0.8, 4);
  txt('F', 107, 116, 'Celltype', { size: 7 });
  trajNames.forEach((t, k) => { const zx = [193, 346, 478, 614, 193, 346, 478][k], zy = k < 4 ? 90 : 140; dot('F', zx, zy, trajColors[k], 1.4); txt('F', zx + 28, zy, t, { size: 6, align: 'left' }); });
  txt('F', 384, 219, 'RRMS', { size: 7.5, bold: true });
  txt('F', 275, 243, 'Trajectory-1', { size: 6, rot: -32 });
  arrows(fF, [[[85,475],[85,387]], [[85,475],[173,475]]], '#111', 0.8, 3.5);
  txt('F', 66, 420, 'Component_2', { size: 7, rot: 90 }); txt('F', 150, 492, 'Component_1', { size: 7 });

  // ---------- G
  const fGr = frame('G', 260, 170);
  gTree.forEach((p) => ln(fGr, p, '#111', 1));
  ln(fGr, gBand, trajColors[0], 6);
  cloud(fGr, gBlueTop, trajColors[3], 1); cloud(fGr, gSalmonCloud, trajColors[0], 1); cloud(fGr, gBlueCloud, trajColors[3], 1); cloud(fGr, gGreenCloud, trajColors[1], 1);
  sc(fGr, gBlue, trajColors[3], 3.6); sc(fGr, gSalmon, trajColors[0], 4); sc(fGr, gGreen, trajColors[1], 3.2); sc(fGr, gBrown, trajColors[4], 3.2); sc(fGr, gTeal, trajColors[2], 3.2);
  cloud(fGr, gPinkCloud, trajColors[5], 1); sc(fGr, gPink, trajColors[5], 3);
  sc(fGr, gCircle, trajColors[5], 11); sc(fGr, gCircle, trajColors[6], 8);
  nodes(fGr, gNodes);
  arrows(fGr, gArrows, '#777', 0.8, 4);
  txt('G', 383, 85, 'SPMS', { size: 7.5, bold: true });
  txt('G', 270, 100, 'Trajectory-1', { size: 6, rot: -29 }); txt('G', 373, 325, 'Trajectory-2', { size: 6, rot: 75 });
  arrows(fGr, [[[88,413],[88,325]], [[88,413],[178,413]]], '#111', 0.8, 3.5);
  txt('G', 70, 345, 'Component_2', { size: 7, rot: 90 }); txt('G', 153, 430, 'Component_1', { size: 7 });

  // ---------- H
  grids.push({ left: 535, top: 218, width: 186, height: 268, show: false });
  const iH = grids.length - 1;
  const cols = Array.from({ length: 62 }, (_, i) => i), rows = exprRows.map((_, i) => i);
  xs.push({ type: 'category', gridIndex: iH, show: false, data: cols });
  ys.push({ type: 'category', gridIndex: iH, show: false, inverse: true, data: rows });
  const heat: number[][] = [];
  exprRows.forEach((r, y) => { r.replace('|', '').split('').forEach((c, x) => heat.push([x, y, exprLevels[+c]])); });
  const hSeries = series.length;
  series.push({ type: 'heatmap', xAxisIndex: iH, yAxisIndex: iH, data: heat, silent: true, progressive: 0, itemStyle: { borderWidth: 0 } });
  gfx.push({ type: 'line', z: 100, silent: true, shape: { x1: 602, y1: 218, x2: 602, y2: 486 }, style: { stroke: '#fff', lineWidth: 1.4 } });
  const annot = (zx1: number, zx2: number, zy1: number, zy2: number, fill: string, label: string, color: string) => {
    const [a, b] = at('H8', zx1, zy1), [c, d] = at('H8', zx2, zy2);
    box(a, b, c - a, d - b, fill, '#5a5a5a', 0.8);
    txt('H8', (zx1 + zx2) / 2, (zy1 + zy2) / 2, label, { size: 6, color });
  };
  annot(44, 245, 31, 68, '#6d9ed4', 'RRMS', '#cfdcea'); annot(249, 603, 31, 68, '#ee4a4a', 'SPMS', '#f9c8c4');
  annot(44, 422, 74, 112, '#8fbc54', 'T8EMRA-Trajectory-1', '#ecf3d6'); annot(427, 603, 74, 112, '#ee8a5a', 'T8EMRA-Trajectory-2', '#fae2d2');
  [130, 158, 188, 218, 248, 415, 445].forEach((zy, k) => txt('H8', 632, zy, genes[k], { size: 6.6, align: 'left' }));
  [70, 390, 420].forEach((zy, k) => txt('H9', 632, zy, genes[7 + k], { size: 6.6, align: 'left' }));
  ([[[607,135],[614,132],[628,130]], [[607,140],[615,150],[628,158]], [[608,155],[616,170],[628,188]], [[610,158],[618,200],[628,218]], [[612,160],[620,235],[628,248]], [[606,432],[618,420],[628,414]], [[606,433],[618,440],[628,445]]] as number[][][]).forEach((p) => poly('H8', p, '#222'));
  ([[[607,70],[627,70]], [[608,400],[615,394],[627,390]], [[608,425],[615,420],[627,418]]] as number[][][]).forEach((p) => poly('H9', p, '#222'));
  txt('H8', 740, 513, 'Expression', { size: 6, bold: true, rot: 90 });
  txt('H8', 781, 468, '4', { size: 5.5, align: 'left' });
  [[18, '2'], [50, '0'], [83, '-2']].forEach(([zy, t]: any) => txt('H9', 781, zy, t, { size: 5.5, align: 'left' }));

  // ---------- I
  grids.push({ left: 40, top: 522, width: 48.6, height: 181.3, show: false });
  const iI = grids.length - 1;
  xs.push({ type: 'category', gridIndex: iI, data: trajectories, position: 'bottom', axisLine: { show: false }, axisTick: { show: false }, axisLabel: { rotate: -90, fontSize: 7.7, color: '#333', fontFamily: FONT, interval: 0, margin: 4 } });
  ys.push({ type: 'category', gridIndex: iI, data: pathways, inverse: true, position: 'right', axisLine: { show: false }, axisTick: { show: false }, axisLabel: { fontSize: 8.05, color: '#333', fontFamily: FONT, interval: 0, margin: 2.5 } });
  const iSeries = series.length;
  const scores: number[][] = [];
  pathwayScores.forEach((r, y) => r.forEach((v, x) => scores.push([x, y, v])));
  series.push({ type: 'heatmap', xAxisIndex: iI, yAxisIndex: iI, data: scores, silent: true, progressive: 0, itemStyle: { borderColor: '#a9a9a9', borderWidth: 0.7 } });
  [[62, '1'], [140, '0.5'], [218, '0'], [297, '-0.5'], [375, '-1']].forEach(([zy, t]: any) => txt('I2', 915, zy, t, { size: 6.6, align: 'left' }));

  return {
    animation: false,
    backgroundColor: '#fff',
    textStyle: { fontFamily: FONT },
    grid: grids, xAxis: xs, yAxis: ys, series,
    graphic: { elements: gfx },
    visualMap: [
      { type: 'continuous', seriesIndex: hSeries, min: -2, max: 4, left: 771, top: 335, itemWidth: 7, itemHeight: 33, padding: 0, calculable: false, inRange: { color: ['#3a6fb0', '#ffffff', '#f9a89c', '#e8453c'] } },
      { type: 'continuous', seriesIndex: iSeries, min: -1.16, max: 1.16, left: 674, top: 522.3, itemWidth: 8, itemHeight: 121, padding: 0, calculable: false, inRange: { color: ['#2a45a5', '#ffffff', '#e0301e'] } },
    ],
  };
}

export default function App() {
  const ref = useRef<HTMLDivElement>(null);
  useEffect(() => {
    const chart = echarts.init(ref.current!, undefined, { renderer: 'svg' });
    chart.setOption(buildOption() as any);
    return () => chart.dispose();
  }, []);
  return <div ref={ref} style={{ position: 'absolute', left: 0, top: 0, width: 784, height: 762 }} />;
}
